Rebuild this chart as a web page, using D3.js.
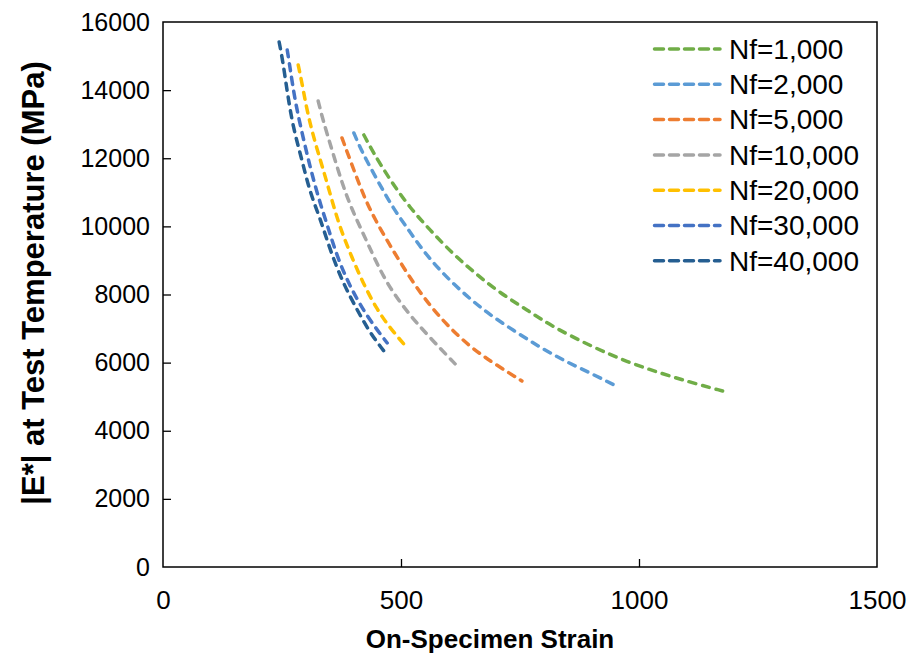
<!DOCTYPE html>
<html>
<head>
<meta charset="utf-8">
<script src="https://cdn.jsdelivr.net/npm/d3@7"></script>
<style>
  body { margin: 0; background: #fff; }
  svg text { font-family: "Liberation Sans", Arial, sans-serif; fill: #000; }
</style>
</head>
<body>
<div id="chart"></div>
<script>
// series: strain, |E*| (MPa)
var seriesNames = ["Nf=1,000", "Nf=2,000", "Nf=5,000", "Nf=10,000", "Nf=20,000", "Nf=30,000", "Nf=40,000"];
var seriesColors = ["#70ad47", "#5b9bd5", "#ed7d31", "#a5a5a5", "#ffc000", "#4472c4", "#255e91"];

var strain1k = [422, 441, 477, 519, 561, 607, 655, 708, 765, 819, 903, 975, 1044, 1113, 1176];
var modulus1k = [12684, 12184, 11362, 10540, 9894, 9219, 8632, 8045, 7546, 7046, 6459, 6019, 5696, 5402, 5167];

var strain2k = [401, 418, 450, 483, 519, 544, 582, 630, 681, 735, 792, 845, 903, 956];
var modulus2k = [12742, 12184, 11362, 10540, 9836, 9330, 8700, 8050, 7457, 6958, 6450, 6040, 5660, 5285];

var strain5k = [376, 414, 441, 504, 546, 592, 645, 697, 754];
var modulus5k = [12596, 11157, 10276, 8808, 7927, 7164, 6459, 5960, 5461];

var strain10k = [326, 336, 355, 376, 397, 429, 462, 504, 555, 620];
var modulus10k = [13682, 13124, 12243, 11274, 10482, 9542, 8514, 7634, 6812, 5872];

var strain20k = [284, 292, 305, 324, 345, 368, 393, 420, 450, 477, 513];
var modulus20k = [14739, 14210, 13212, 12243, 11274, 10100, 9219, 8338, 7546, 7017, 6430];

var strain30k = [261, 267, 277, 292, 309, 326, 345, 366, 393, 429, 471];
var modulus30k = [15179, 14651, 13711, 12742, 11744, 10863, 10041, 9102, 8221, 7340, 6577];

var strain40k = [244, 252, 261, 273, 292, 309, 330, 351, 378, 408, 435, 464];
var modulus40k = [15414, 14827, 13946, 12918, 11950, 10981, 10247, 9307, 8338, 7546, 6870, 6342];

var xTicks = [0, 500, 1000, 1500];
var yTicks = [0, 2000, 4000, 6000, 8000, 10000, 12000, 14000, 16000];

var allStrain = [strain1k, strain2k, strain5k, strain10k, strain20k, strain30k, strain40k];
var allModulus = [modulus1k, modulus2k, modulus5k, modulus10k, modulus20k, modulus30k, modulus40k];

var W = 922, H = 660;
var margin = {top: 22, right: 45, bottom: 93, left: 163};
var width = W - margin.left - margin.right,
    height = H - margin.top - margin.bottom;

var svg = d3.select("#chart").append("svg")
    .attr("width", W)
    .attr("height", H);

var g = svg.append("g")
    .attr("transform", "translate(" + margin.left + "," + margin.top + ")");

var x = d3.scaleLinear().domain([0, 1500]).range([0, width]);
var y = d3.scaleLinear().domain([0, 16000]).range([height, 0]);

// x axis, ticks pointing inwards
var xAxis = g.append("g")
    .attr("transform", "translate(0," + height + ")")
    .call(d3.axisBottom(x).tickValues(xTicks).tickSize(-8).tickPadding(24).tickFormat(d3.format("d")));

var yAxis = g.append("g")
    .call(d3.axisLeft(y).tickValues(yTicks).tickSize(-8).tickPadding(13).tickFormat(d3.format("d")));

[xAxis, yAxis].forEach(function(a) {
  a.select(".domain").remove();
  a.selectAll("line").attr("stroke", "#000").attr("stroke-width", 1.3);
  a.selectAll("text").attr("fill", "#000");
});
xAxis.selectAll("text").style("font-size", "26px");
yAxis.selectAll("text").style("font-size", "25px");
xAxis.selectAll("line").filter(function(d) { return d == 0 || d == 1500; }).remove();
yAxis.selectAll("line").filter(function(d) { return d == 0 || d == 16000; }).remove();

// plot frame
g.append("rect")
    .attr("width", width)
    .attr("height", height)
    .attr("fill", "none")
    .attr("stroke", "#000")
    .attr("stroke-width", 1.5);

var line = d3.line()
    .curve(d3.curveBasis)
    .x(function(d) { return x(d[0]); })
    .y(function(d) { return y(d[1]); });

allStrain.forEach(function(s, i) {
  var pts = s.map(function(v, j) { return [v, allModulus[i][j]]; });
  g.append("path")
    .datum(pts)
    .attr("fill", "none")
    .attr("stroke", seriesColors[i])
    .attr("stroke-width", 3.5)
    .attr("stroke-linecap", "round")
    .attr("stroke-dasharray", "7,7")
    .attr("d", line);
});

// legend
var legend = svg.append("g").attr("transform", "translate(653,49)");
seriesNames.forEach(function(name, i) {
  var row = legend.append("g").attr("transform", "translate(0," + (i * 35.3) + ")");
  row.append("line")
    .attr("x1", 1.5).attr("x2", 67)
    .attr("stroke", seriesColors[i])
    .attr("stroke-width", 3.5)
    .attr("stroke-linecap", "round")
    .attr("stroke-dasharray", "9,6");
  row.append("text")
    .attr("x", 76)
    .attr("dy", "0.35em")
    .style("font-size", "28px")
    .text(name);
});

// axis titles
svg.append("text")
    .attr("x", 490)
    .attr("y", 648)
    .attr("text-anchor", "middle")
    .style("font-size", "26px")
    .style("font-weight", "bold")
    .text("On-Specimen Strain");

svg.append("text")
    .attr("transform", "translate(44,283) rotate(-90)")
    .attr("text-anchor", "middle")
    .style("font-size", "31px")
    .style("font-weight", "bold")
    .text("|E*| at Test Temperature (MPa)");
</script>
</body>
</html>
